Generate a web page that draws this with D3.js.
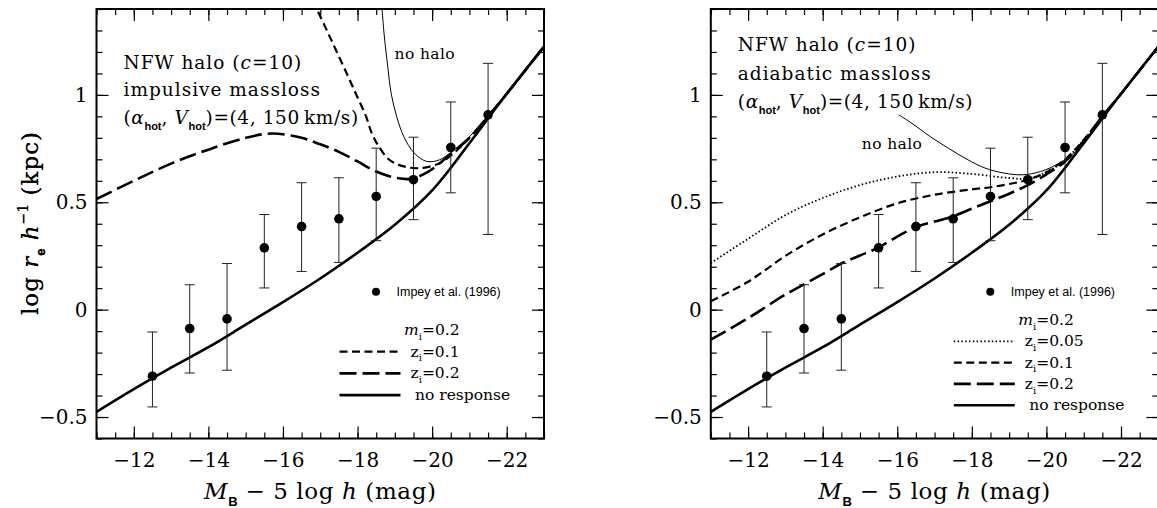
<!DOCTYPE html>
<html>
<head>
<meta charset="utf-8">
<script src="https://cdn.jsdelivr.net/npm/d3@7"></script>
<style>
  body { margin: 0; background: #fff; }
  svg { display: block; }
</style>
</head>
<body>
<div id="chart"></div>
<script>
// Impey et al. (1996) data points
const dataMag = [-12.5, -13.5, -14.5, -15.5, -16.5, -17.5, -18.5, -19.5, -20.5, -21.5]
const dataLog = [-0.31, -0.088, -0.043, 0.288, 0.387, 0.423, 0.527, 0.605, 0.755, 0.907]
const errHi = [-0.104, 0.116, 0.215, 0.443, 0.591, 0.614, 0.752, 0.803, 0.967, 1.147]
const errLo = [-0.453, -0.295, -0.282, 0.101, 0.178, 0.22, 0.321, 0.419, 0.544, 0.35]

// no response (same in both panels)
const noRespMag = [-11, -12, -13, -14, -15, -16, -17, -18, -19, -20, -21, -22, -23]
const noRespLog = [-0.476, -0.37, -0.27, -0.175, -0.07, 0.035, 0.145, 0.265, 0.395, 0.555, 0.775, 1.005, 1.225]

// left panel: impulsive massloss
const impHaloMag = [-18.64, -18.71, -18.81, -18.9, -19.05, -19.24, -19.52, -19.86, -20.2, -20.53, -21, -21.5, -22, -23]
const impHaloLog = [1.44, 1.287, 1.132, 1.008, 0.899, 0.806, 0.729, 0.69, 0.698, 0.736, 0.805, 0.9, 1.005, 1.225]
const impZ01Mag = [-16.8, -17.13, -17.42, -17.75, -17.99, -18.23, -18.38, -18.57, -18.85, -19.24, -19.67, -20.2, -20.58, -21, -21.5, -22, -23]
const impZ01Log = [1.44, 1.318, 1.209, 1.085, 0.992, 0.899, 0.822, 0.76, 0.698, 0.667, 0.659, 0.682, 0.729, 0.80, 0.9, 1.005, 1.225]
const impZ02Mag = [-11, -12, -13, -14, -15, -15.7, -16.5, -17, -17.5, -18, -18.5, -19, -19.43, -19.9, -20.5, -21, -21.5, -22, -23]
const impZ02Log = [0.515, 0.60, 0.68, 0.745, 0.80, 0.82, 0.80, 0.77, 0.735, 0.69, 0.643, 0.615, 0.609, 0.643, 0.725, 0.80, 0.9, 1.005, 1.225]

// right panel: adiabatic massloss
const adiHaloMag = [-16.04, -16.39, -16.88, -17.37, -17.87, -18.36, -18.86, -19.35, -19.84, -20.34, -20.83, -21.5, -22, -23]
const adiHaloLog = [0.907, 0.868, 0.806, 0.752, 0.70, 0.659, 0.636, 0.628, 0.643, 0.682, 0.745, 0.9, 1.005, 1.225]
const adiZ005Mag = [-11, -12, -13, -14, -15, -16, -17, -18, -19, -19.55, -20.34, -21, -21.5, -22, -23]
const adiZ005Log = [0.217, 0.33, 0.44, 0.52, 0.58, 0.62, 0.64, 0.632, 0.613, 0.612, 0.675, 0.79, 0.9, 1.005, 1.225]
const adiZ01Mag = [-11, -12, -13, -14, -15, -16, -17, -18, -18.5, -19, -19.5, -20, -20.5, -21, -21.5, -22, -23]
const adiZ01Log = [0.039, 0.13, 0.25, 0.35, 0.43, 0.495, 0.535, 0.56, 0.57, 0.585, 0.605, 0.64, 0.70, 0.79, 0.9, 1.005, 1.225]
const adiZ02Mag = [-11, -12, -13, -14, -14.5, -15, -15.5, -16, -16.5, -17, -17.5, -18, -18.5, -19, -19.5, -20, -20.5, -21, -21.5, -22, -23]
const adiZ02Log = [-0.14, -0.04, 0.07, 0.165, 0.215, 0.252, 0.29, 0.34, 0.385, 0.41, 0.435, 0.47, 0.505, 0.54, 0.58, 0.63, 0.69, 0.785, 0.9, 1.005, 1.225]

// ticks
const xMajor = [-12, -14, -16, -18, -20, -22]
const xMinor = d3.range(0, 25).map(i => -11 - i * 0.5)
const yMajor = [-0.5, 0, 0.5, 1]
const yMinor = d3.range(-6, 15).map(i => i / 10)

const serif = "'DejaVu Serif', serif"
const sans = "'Liberation Sans', Arial, sans-serif"

const width = 1157
const height = 508
const pw = 447.5
const ph = 429.5

const svg = d3.select("#chart").append("svg")
    .attr("width", width)
    .attr("height", height)

const x = d3.scaleLinear().domain([-11, -23]).range([0, pw])
const y = d3.scaleLinear().domain([-0.6, 1.4]).range([ph, 0])

// text with italic / sub / sup pieces
function rich(sel, tx, ty, parts, fs, ls) {
    const t = sel.append("text").attr("x", tx).attr("y", ty)
        .attr("font-family", serif).attr("font-size", fs).attr("fill", "#000")
        .attr("letter-spacing", ls || 0)
    let off = 0
    parts.forEach(p => {
        const want = p.sub ? fs * 0.3 : p.sup ? -fs * 0.42 : 0
        const s = t.append("tspan").attr("dy", want - off).text(p.t)
        off = want
        if (p.it) s.attr("font-style", "italic")
        if (p.sub || p.sup) s.attr("font-size", p.fs || fs * 0.62).attr("letter-spacing", 0)
        if (p.sans) s.attr("font-family", sans).attr("font-weight", "bold")
    })
    return t
}

const line = d3.line().x(d => x(d[0])).y(d => y(d[1])).curve(d3.curveCatmullRom.alpha(0.5))

function drawPanel(id, left, top, opts) {
    const g = svg.append("g").attr("transform", `translate(${left},${top})`)

    g.append("clipPath").attr("id", "clip" + id)
        .append("rect").attr("width", pw).attr("height", ph)

    // axes, ticks inward
    g.append("g").attr("transform", `translate(0,${ph})`)
        .call(d3.axisBottom(x).tickValues(xMajor).tickSize(-12).tickPadding(14).tickFormat(d => d3.format("d")(d)))
    g.append("g").attr("transform", `translate(0,${ph})`)
        .call(d3.axisBottom(x).tickValues(xMinor).tickSize(-6).tickFormat(""))
    g.append("g").call(d3.axisTop(x).tickValues(xMajor).tickSize(-12).tickFormat(""))
    g.append("g").call(d3.axisTop(x).tickValues(xMinor).tickSize(-6).tickFormat(""))
    g.append("g").call(d3.axisLeft(y).tickValues(yMajor).tickSize(-12).tickPadding(9)
        .tickFormat(d => (d < 0 ? "\u2212" : "") + Math.abs(d)))
    g.append("g").call(d3.axisLeft(y).tickValues(yMinor).tickSize(-6).tickFormat(""))
    g.append("g").attr("transform", `translate(${pw},0)`)
        .call(d3.axisRight(y).tickValues(yMajor).tickSize(-12).tickFormat(""))
    g.append("g").attr("transform", `translate(${pw},0)`)
        .call(d3.axisRight(y).tickValues(yMinor).tickSize(-6).tickFormat(""))
    g.selectAll(".domain").remove()
    g.selectAll(".tick line").attr("stroke", "#000").attr("stroke-width", 1.2)
    g.selectAll(".tick text").attr("font-family", serif).attr("font-size", 20).attr("fill", "#000")

    g.append("rect").attr("width", pw).attr("height", ph)
        .attr("fill", "none").attr("stroke", "#000").attr("stroke-width", 2)

    // curves
    const cg = g.append("g").attr("clip-path", `url(#clip${id})`)
    opts.curves.forEach(c => {
        cg.append("path")
            .datum(c.mag.map((m, i) => [m, c.log[i]]))
            .attr("d", line)
            .attr("fill", "none")
            .attr("stroke", "#000")
            .attr("stroke-width", c.w)
            .attr("stroke-dasharray", c.dash)
    })

    // error bars and points
    const eb = g.append("g").attr("stroke", "#222").attr("stroke-width", 1)
    dataMag.forEach((m, i) => {
        eb.append("line").attr("x1", x(m)).attr("x2", x(m)).attr("y1", y(errHi[i])).attr("y2", y(errLo[i]))
        eb.append("line").attr("x1", x(m) - 5).attr("x2", x(m) + 5).attr("y1", y(errHi[i])).attr("y2", y(errHi[i]))
        eb.append("line").attr("x1", x(m) - 5).attr("x2", x(m) + 5).attr("y1", y(errLo[i])).attr("y2", y(errLo[i]))
    })
    g.selectAll("circle.pt").data(dataMag).enter().append("circle")
        .attr("class", "pt")
        .attr("cx", d => x(d)).attr("cy", (d, i) => y(dataLog[i])).attr("r", 4.8)
        .attr("fill", "#000")

    // axis titles
    rich(g, pw / 2, 499 - top, [
        { t: "M", it: true }, { t: "B", sub: true, sans: true, fs: 13 },
        { t: " \u2212 5 log " }, { t: "h", it: true }, { t: " (mag)" }
    ], 23, 0.6).attr("text-anchor", "middle")

    rich(g, 0, 0, [
        { t: "log " }, { t: "r", it: true }, { t: "e", sub: true, sans: true, fs: 13 },
        { t: " " }, { t: "h", it: true }, { t: "\u22121", sup: true, fs: 14 },
        { t: " (kpc)" }
    ], 23, 1).attr("text-anchor", "middle")
        .attr("transform", `translate(${38 - left},${223 - top}) rotate(-90)`)

    // annotation
    const a = opts.note
    rich(g, 27, a.y[0], [{ t: "NFW halo (" }, { t: "c", it: true }, { t: "=10)" }], 18.5, 1)
    rich(g, 27, a.y[1], [{ t: a.kind }], 18.5, 1)
    rich(g, 27, a.y[2], [
        { t: "(" }, { t: "\u03b1", it: true }, { t: "hot", sub: true, sans: true, fs: 11 },
        { t: ", " }, { t: "V", it: true }, { t: "hot", sub: true, sans: true, fs: 11 },
        { t: ")=(4, 150\u2009km/s)" }
    ], 18.5, 0.6)
    rich(g, a.halo[0], a.halo[1], [{ t: "no halo" }], 15.5, 0.4)

    // legend
    g.append("circle").attr("cx", 279.5).attr("cy", 291.7 - top).attr("r", 4).attr("fill", "#000")
    g.append("text").attr("x", 300).attr("y", 296 - top)
        .attr("font-family", sans).attr("font-size", 12.5).text("Impey et al. (1996)")

    const L = opts.legend
    rich(g, 307.5, L.y0 + 5, [{ t: "m", it: true }, { t: "i", sub: true, fs: 10 }, { t: "=0.2" }], 15.5)
    L.items.forEach((it, i) => {
        const ly = L.y0 + L.dy * (i + 1)
        g.append("line").attr("x1", 243).attr("x2", 304).attr("y1", ly).attr("y2", ly)
            .attr("stroke", "#000").attr("stroke-width", it.w).attr("stroke-dasharray", it.dash)
        const parts = it.z ? [{ t: "z" }, { t: "i", sub: true, fs: 10 }, { t: "=" + it.z }] : [{ t: "no response" }]
        rich(g, it.z ? 314 : 318.5, ly + 5, parts, 15.5)
    })
    return g
}

const dashLong = "17,6"
const dashShort = "8,4.5"
const dashDot = "1.5,2.3"

drawPanel("L", 96.5, 9, {
    curves: [
        { mag: noRespMag, log: noRespLog, w: 2.6, dash: null },
        { mag: impZ02Mag, log: impZ02Log, w: 2.6, dash: dashLong },
        { mag: impZ01Mag, log: impZ01Log, w: 2.2, dash: dashShort },
        { mag: impHaloMag, log: impHaloLog, w: 1, dash: null },
    ],
    note: { y: [60, 87, 115], kind: "impulsive massloss", halo: [298, 50] },
    legend: {
        y0: 321, dy: 21.7,
        items: [
            { z: "0.1", w: 2.2, dash: dashShort },
            { z: "0.2", w: 2.6, dash: dashLong },
            { z: null, w: 2.6, dash: null },
        ]
    }
})

drawPanel("R", 710.8, 9, {
    curves: [
        { mag: noRespMag, log: noRespLog, w: 2.6, dash: null },
        { mag: adiZ02Mag, log: adiZ02Log, w: 2.6, dash: dashLong },
        { mag: adiZ01Mag, log: adiZ01Log, w: 2.2, dash: dashShort },
        { mag: adiZ005Mag, log: adiZ005Log, w: 1.8, dash: dashDot },
        { mag: adiHaloMag, log: adiHaloLog, w: 1, dash: null },
    ],
    note: { y: [42, 71, 99], kind: "adiabatic massloss", halo: [151, 140] },
    legend: {
        y0: 311, dy: 21.3,
        items: [
            { z: "0.05", w: 1.8, dash: dashDot },
            { z: "0.1", w: 2.2, dash: dashShort },
            { z: "0.2", w: 2.6, dash: dashLong },
            { z: null, w: 2.6, dash: null },
        ]
    }
})
</script>
</body>
</html>
